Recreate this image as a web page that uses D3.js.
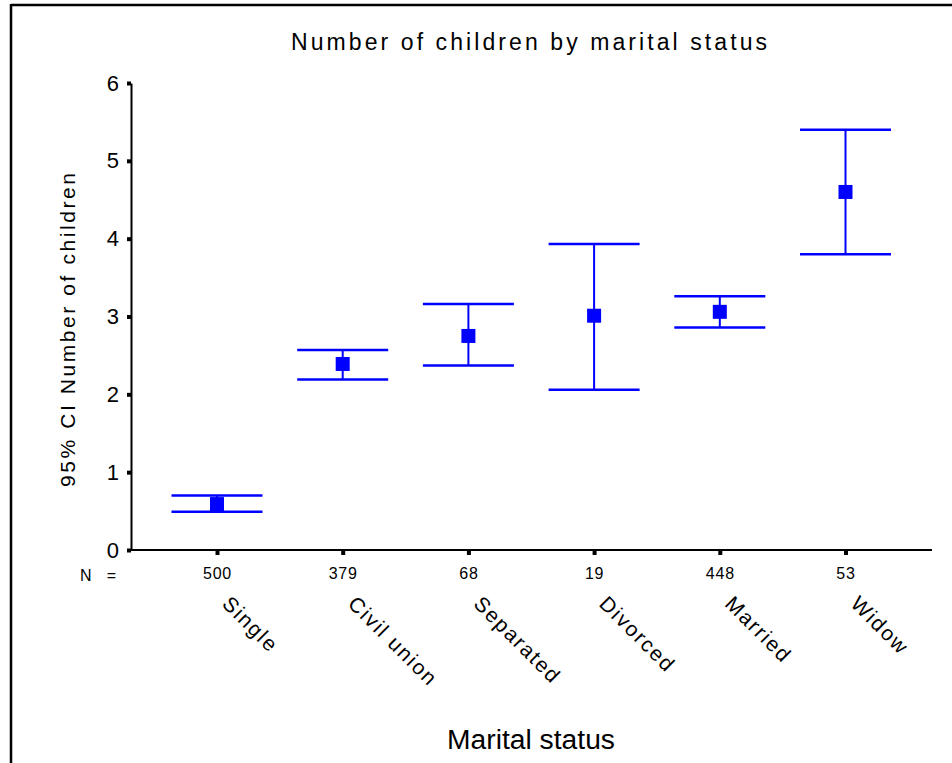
<!DOCTYPE html>
<html>
<head>
<meta charset="utf-8">
<script src="https://cdn.jsdelivr.net/npm/d3@7"></script>
<style>
  html, body { margin: 0; padding: 0; background: #fff; }
  svg { display: block; font-family: "Liberation Sans", Arial, sans-serif; }
</style>
</head>
<body>
<svg id="chart" width="952" height="763"></svg>
<script>
// Marital status groups, sample sizes and 95% CI of the number of children
const categories = ["Single", "Civil union", "Separated", "Divorced", "Married", "Widow"];
const counts     = [500, 379, 68, 19, 448, 53];
const means      = [0.59, 2.39, 2.75, 3.01, 3.06, 4.60];
const ciLow      = [0.49, 2.19, 2.37, 2.06, 2.86, 3.80];
const ciHigh     = [0.70, 2.57, 3.16, 3.93, 3.26, 5.40];
const yTicks     = [0, 1, 2, 3, 4, 5, 6];

const titleText  = "Number of children by marital status";
const xTitleText = "Marital status";
const yTitleText = "95% CI Number of children";

const svg = d3.select("#chart");
const blue = "#0000ff";
const font = "Liberation Sans, Arial, sans-serif";

// frame lines along the top and left of the page
svg.append("line").attr("x1", 11).attr("y1", 5).attr("x2", 952).attr("y2", 5)
  .attr("stroke", "#000").attr("stroke-width", 2.5);
svg.append("line").attr("x1", 11).attr("y1", 4).attr("x2", 11).attr("y2", 763)
  .attr("stroke", "#000").attr("stroke-width", 2.5);

const axisX = 131, axisY = 550, axisRight = 932;

const y = d3.scaleLinear().domain([0, 6]).range([axisY, 83]);
const x = d3.scalePoint().domain(categories).range([217, 845.5]);

// y axis
const yAxis = svg.append("g")
  .attr("transform", `translate(${axisX},0)`)
  .call(d3.axisLeft(y).tickValues(yTicks).tickFormat(d3.format("d"))
    .tickSize(4).tickSizeOuter(0).tickPadding(8));
yAxis.select(".domain").attr("stroke-width", 2);
yAxis.selectAll(".tick line").attr("stroke-width", 4);
yAxis.selectAll(".tick text").attr("font-size", 22).attr("fill", "#000")
  .attr("font-family", font);

// x axis baseline and N labels
svg.append("line").attr("x1", axisX - 1).attr("x2", axisRight)
  .attr("y1", axisY).attr("y2", axisY).attr("stroke", "#000").attr("stroke-width", 2);
const xAxis = svg.append("g")
  .attr("transform", `translate(0,${axisY})`)
  .call(d3.axisBottom(x).tickFormat((d, i) => counts[i])
    .tickSize(5).tickSizeOuter(0).tickPadding(13));
xAxis.select(".domain").remove();
xAxis.selectAll(".tick line").attr("stroke-width", 4);
xAxis.selectAll(".tick text").attr("font-size", 16).attr("fill", "#000")
  .attr("letter-spacing", 0.8).attr("font-family", font);

svg.append("text").attr("x", 80).attr("y", 581).attr("font-size", 16)
  .attr("textLength", 36).attr("lengthAdjust", "spacing").text("N =");

// rotated category names
svg.append("g").selectAll("text").data(categories).join("text")
  .attr("transform", d => `translate(${x(d) + 4},605) rotate(45)`)
  .attr("font-size", 21).attr("letter-spacing", 1.8)
  .text(d => d);

// error bars
const half = 45.5;
const bars = svg.append("g").selectAll("g").data(categories).join("g");
bars.append("line")
  .attr("x1", d => x(d)).attr("x2", d => x(d))
  .attr("y1", (d, i) => y(ciHigh[i])).attr("y2", (d, i) => y(ciLow[i]))
  .attr("stroke", blue).attr("stroke-width", 2);
bars.append("line")
  .attr("x1", d => x(d) - half).attr("x2", d => x(d) + half)
  .attr("y1", (d, i) => y(ciHigh[i])).attr("y2", (d, i) => y(ciHigh[i]))
  .attr("stroke", blue).attr("stroke-width", 2.5);
bars.append("line")
  .attr("x1", d => x(d) - half).attr("x2", d => x(d) + half)
  .attr("y1", (d, i) => y(ciLow[i])).attr("y2", (d, i) => y(ciLow[i]))
  .attr("stroke", blue).attr("stroke-width", 2.5);
bars.append("rect")
  .attr("x", d => x(d) - 7).attr("y", (d, i) => y(means[i]) - 7)
  .attr("width", 14).attr("height", 14).attr("fill", blue);

// titles
svg.append("text").attr("x", 529).attr("y", 50).attr("text-anchor", "middle")
  .attr("font-size", 23).attr("textLength", 476).attr("lengthAdjust", "spacing")
  .text(titleText);
svg.append("text").attr("x", 531).attr("y", 749).attr("text-anchor", "middle")
  .attr("font-size", 27).attr("textLength", 168).attr("lengthAdjust", "spacingAndGlyphs")
  .text(xTitleText);
svg.append("text").attr("transform", "translate(75,330) rotate(-90)")
  .attr("text-anchor", "middle")
  .attr("font-size", 21).attr("textLength", 314).attr("lengthAdjust", "spacing")
  .text(yTitleText);
</script>
</body>
</html>
